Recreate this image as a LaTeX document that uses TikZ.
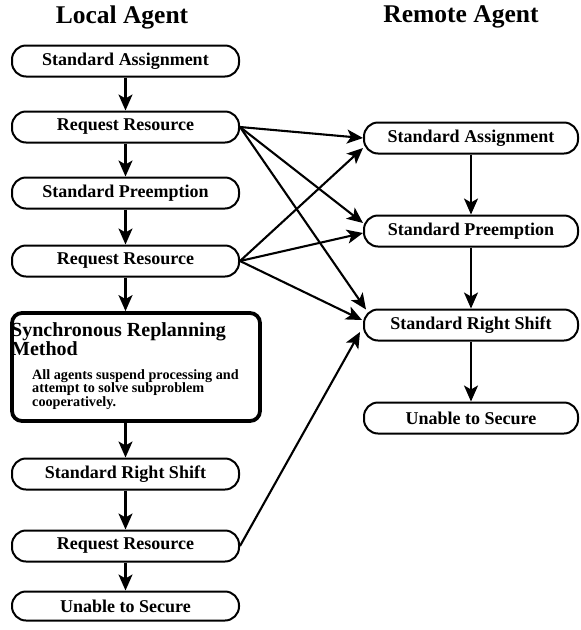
\documentclass[tikz,border=0pt]{standalone}
\usepackage{fontspec}
\setmainfont{Liberation Serif}
\usetikzlibrary{arrows.meta,calc}
\tikzset{
  stepbox/.style={draw, line width=2pt, rounded corners=14pt, inner sep=0pt,
    minimum height=31pt, font=\bfseries\fontsize{18}{20}\selectfont},
  leftbox/.style={stepbox, minimum width=227pt},
  rightbox/.style={stepbox, minimum width=214pt},
  title/.style={font=\bfseries\fontsize{25.5}{28}\selectfont},
  conn/.style={line width=2.1pt, -{Stealth[length=16pt,width=14pt,inset=4pt]}},
}
\begin{document}
\begin{tikzpicture}[x=1pt,y=-1pt]
\useasboundingbox (0,0) rectangle (581,630);
\node[title] (tl) at (122,17) {Local Agent};
\node[title] (tr) at (461,17) {Remote Agent};

\node[leftbox] (lsa) at (125.5,61) {Standard Assignment};
\node[leftbox] (lrr1) at (125.5,127) {Request Resource};
\node[leftbox] (lsp) at (125.5,193) {Standard Preemption};
\node[leftbox] (lrr2) at (125.5,261) {Request Resource};
\node[draw, line width=3.8pt, rounded corners=10pt, minimum width=248pt, minimum height=108pt, inner sep=0pt] (sync) at (136,367) {};
\node[anchor=north west, inner sep=0pt, align=left, font=\bfseries\fontsize{20}{17}\selectfont] (synct) at (11,322) {Synchronous Replanning\\Method};
\node[anchor=north west, inner sep=0pt, align=left, font=\bfseries\fontsize{14.2}{13.5}\selectfont] (syncb) at (32,369) {All agents suspend processing and\\attempt to solve subproblem\\cooperatively.};
\node[leftbox] (lsrs) at (125.5,474) {Standard Right Shift};
\node[leftbox] (lrr3) at (125.5,546) {Request Resource};
\node[leftbox, minimum height=29pt] (lus) at (125.5,606) {Unable to Secure};

\node[rightbox] (rsa) at (471,138) {Standard Assignment};
\node[rightbox] (rsp) at (471,231) {Standard Preemption};
\node[rightbox] (rsrs) at (471,325) {Standard Right Shift};
\node[rightbox] (rus) at (471,418) {Unable to Secure};

\draw[conn] (lsa) -- (lrr1);
\draw[conn] (lrr1) -- (lsp);
\draw[conn] (lsp) -- (lrr2);
\draw[conn] (lrr2) -- (lrr2.south |- sync.north);
\draw[conn] (sync.south -| lsrs) -- (lsrs);
\draw[conn] (lsrs) -- (lrr3);
\draw[conn] (lrr3) -- (lus);

\draw[conn] (rsa) -- (rsp);
\draw[conn] (rsp) -- (rsrs);
\draw[conn] (rsrs) -- (rus);

\draw[conn] (lrr1.east) -- (rsa.west);
\draw[conn] (lrr1.east) -- ($(rsp.west)+(0,-8)$);
\draw[conn] (lrr1.east) -- ($(rsrs.north west)+(3,1)$);
\draw[conn] (lrr2.east) -- ($(rsa.west)+(0,10)$);
\draw[conn] (lrr2.east) -- ($(rsp.west)+(0,2)$);
\draw[conn] (lrr2.east) -- ($(rsrs.west)+(-1,-5)$);
\draw[conn] (lrr3.east) -- ($(rsrs.west)+(-3,7)$);
\end{tikzpicture}
\end{document}
